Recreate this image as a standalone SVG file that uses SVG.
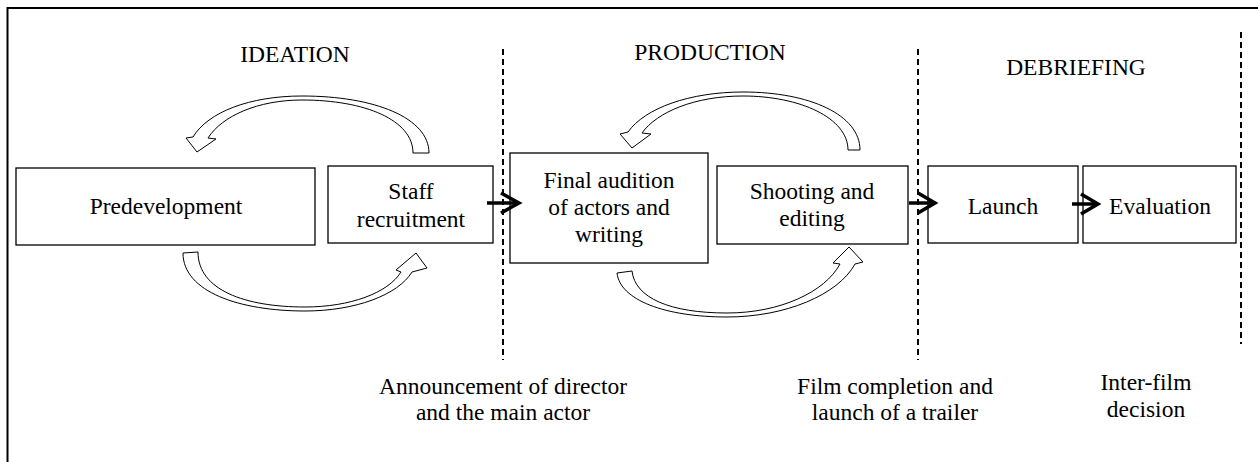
<svg xmlns="http://www.w3.org/2000/svg" width="1258" height="462" viewBox="0 0 1258 462">
<style>
text{font-family:"Liberation Serif","DejaVu Serif",serif;font-size:23.5px;fill:#000;text-anchor:middle}
.box{fill:#fff;stroke:#000;stroke-width:1.3}
.curve{fill:#fff;stroke:#000;stroke-width:1}
.sep{stroke:#000;stroke-width:2;stroke-dasharray:6 4;fill:none}
.bold{stroke:#000;stroke-width:3.5;fill:none}
</style>
<rect width="1258" height="462" fill="#fff"/>
<path d="M7.5,462 V8 H1258" fill="none" stroke="#000" stroke-width="2"/>
<g id="phases" font-family="Liberation Serif, serif">
<text x="295" y="62">IDEATION</text>
<text x="710" y="60">PRODUCTION</text>
<text x="1076" y="75">DEBRIEFING</text>
</g>
<g id="separators">
<line class="sep" x1="503" y1="49" x2="503" y2="360"/>
<line class="sep" x1="918" y1="49" x2="918" y2="360"/>
<line class="sep" x1="1241" y1="32" x2="1241" y2="344"/>
</g>
<g id="node-predevelopment"><rect class="box" x="16" y="168" width="299" height="77"/><text x="166" y="214">Predevelopment</text></g>
<g id="node-staff"><rect class="box" x="328" y="166" width="165" height="77"/><text x="411" y="199">Staff</text><text x="411" y="227">recruitment</text></g>
<g id="node-final"><rect class="box" x="510" y="153" width="198" height="110"/><text x="609" y="188">Final audition</text><text x="609" y="215">of actors and</text><text x="609" y="242">writing</text></g>
<g id="node-shooting"><rect class="box" x="717" y="166" width="191" height="78"/><text x="812" y="199">Shooting and</text><text x="812" y="226">editing</text></g>
<g id="node-launch"><rect class="box" x="928" y="166" width="150" height="77"/><text x="1003" y="214">Launch</text></g>
<g id="node-evaluation"><rect class="box" x="1083" y="166" width="153" height="77"/><text x="1160" y="214">Evaluation</text></g>
<g id="connectors">
<path class="curve" d="M429,153 C429,118 375,96 302,96 C250,96 208,112 193,137 L186,138 L197,152 L216,139 L208,138 C222,116 258,100 302,100 C365,100 413,120 413,153 Z"/>
<path class="curve" d="M183,253 C183,292 240,311 305,311 C355,311 398,295 412,272 L427,268 L416,253 L396,270 L401,272 C388,293 350,307 305,307 C245,307 198,290 198,252 Z"/>
<path class="curve" d="M860,150 C860,115 810,92 743,92 C690,92 645,108 628,132 L620,134 L632,148 L651,134 L642,133 C657,112 695,96 743,96 C800,96 848,118 848,150 Z"/>
<path class="curve" d="M617,273 C620,300 665,317 727,317 C785,317 838,295 855,264 L863,262 L849,247 L833,263 L840,264 C825,292 780,313 727,313 C670,313 635,298 632,271 Z"/>
<line class="bold" x1="487" y1="203" x2="519" y2="203"/><polyline class="bold" points="501,193 519,203 501,213"/>
<line class="bold" x1="909" y1="203" x2="935" y2="203"/><polyline class="bold" points="918,193 935,203 918,213"/>
<line class="bold" x1="1072" y1="204" x2="1098" y2="204"/><polyline class="bold" points="1081,194 1098,204 1081,214"/>
</g>
<g id="milestones">
<text x="503" y="394">Announcement of director</text>
<text x="503" y="420">and the main actor</text>
<text x="895" y="394">Film completion and</text>
<text x="895" y="420">launch of a trailer</text>
<text x="1146" y="390">Inter-film</text>
<text x="1146" y="417">decision</text>
</g>
</svg>
